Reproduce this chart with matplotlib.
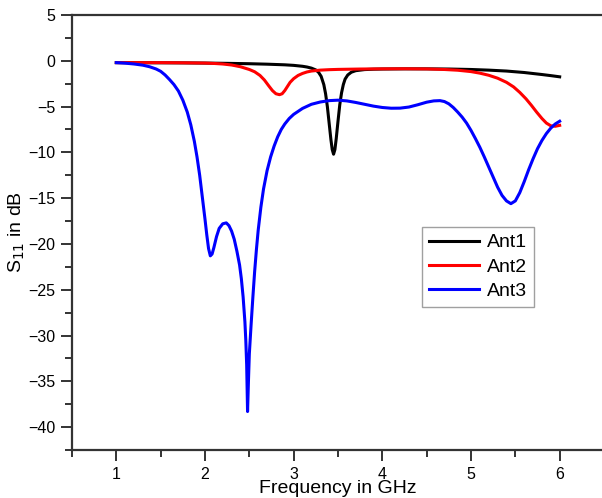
import matplotlib
matplotlib.use('Agg')
import matplotlib.pyplot as plt
from matplotlib.ticker import MultipleLocator

plt.rcParams['font.family'] = ['Liberation Sans', 'DejaVu Sans']

# Ant1 (black)
ant1_f = [1.0, 1.25, 1.5, 1.75, 2.0, 2.25, 2.5, 2.7, 2.9, 3.0, 3.1, 3.15, 3.2,
          3.25, 3.28, 3.31, 3.34, 3.36, 3.38, 3.4, 3.42, 3.435, 3.45, 3.465,
          3.48, 3.5, 3.52, 3.54, 3.56, 3.58, 3.61, 3.65, 3.7, 3.8, 3.9, 4.0,
          4.25, 4.5, 4.75, 5.0, 5.2, 5.4, 5.6, 5.8, 5.9, 6.0]
ant1_s = [-0.2, -0.21, -0.22, -0.23, -0.25, -0.28, -0.32, -0.37, -0.44, -0.5,
          -0.6, -0.68, -0.8, -1.0, -1.25, -1.7, -2.6, -3.6, -5.0, -6.8, -8.6,
          -9.7, -10.2, -9.7, -8.5, -6.6, -4.8, -3.5, -2.6, -2.0, -1.55, -1.25,
          -1.08, -0.96, -0.92, -0.9, -0.88, -0.88, -0.9, -0.95, -1.02, -1.12,
          -1.28, -1.5, -1.62, -1.75]

# Ant2 (red)
ant2_f = [1.0, 1.25, 1.5, 1.75, 2.0, 2.1, 2.2, 2.3, 2.4, 2.5, 2.56, 2.62, 2.67,
          2.72, 2.76, 2.8, 2.84, 2.87, 2.9, 2.93, 2.96, 3.0, 3.05, 3.1, 3.15,
          3.2, 3.3, 3.4, 3.5, 3.75, 4.0, 4.25, 4.5, 4.7, 4.85, 5.0, 5.1, 5.2,
          5.3, 5.4, 5.48, 5.55, 5.62, 5.68, 5.74, 5.8, 5.85, 5.9, 5.95, 6.0]
ant2_s = [-0.2, -0.2, -0.2, -0.22, -0.25, -0.29, -0.35, -0.46, -0.65, -0.95,
          -1.2, -1.6, -2.1, -2.75, -3.25, -3.6, -3.7, -3.6, -3.25, -2.8, -2.35,
          -1.95, -1.6, -1.38, -1.22, -1.12, -1.02, -0.97, -0.94, -0.9, -0.88,
          -0.87, -0.89, -0.95, -1.03, -1.18, -1.35, -1.58, -1.9, -2.35, -2.85,
          -3.45, -4.15, -4.85, -5.6, -6.3, -6.8, -7.1, -7.15, -7.05]

# Ant3 (blue)
ant3_f = [1.0, 1.1, 1.2, 1.3, 1.375, 1.45, 1.5, 1.55, 1.6, 1.65, 1.7, 1.75, 1.8,
          1.84, 1.88, 1.91, 1.94, 1.97, 2.0, 2.02, 2.04, 2.06, 2.08, 2.1, 2.13,
          2.16, 2.2, 2.24, 2.27, 2.3, 2.33, 2.36, 2.39, 2.41, 2.43, 2.45, 2.46,
          2.47, 2.48, 2.49, 2.5, 2.52, 2.54, 2.56, 2.58, 2.6, 2.63, 2.66, 2.7,
          2.74, 2.78, 2.82, 2.86, 2.9, 2.95, 3.0, 3.1, 3.2, 3.3, 3.4, 3.5, 3.6,
          3.7, 3.8, 3.9, 4.0, 4.1, 4.2, 4.3, 4.4, 4.5, 4.58, 4.65, 4.7, 4.75,
          4.8, 4.85, 4.9, 4.95, 5.0, 5.05, 5.1, 5.15, 5.2, 5.25, 5.3, 5.35, 5.4,
          5.45, 5.5, 5.55, 5.6, 5.65, 5.7, 5.75, 5.8, 5.85, 5.9, 5.95, 6.0]
ant3_s = [-0.2, -0.26, -0.35, -0.48, -0.65, -0.9, -1.15, -1.55, -2.05, -2.6,
          -3.3, -4.3, -5.6, -7.0, -8.8, -10.5, -12.5, -14.9, -17.3, -19.0, -20.5,
          -21.3, -21.1, -20.4, -19.2, -18.3, -17.8, -17.7, -18.0, -18.6, -19.5,
          -20.8, -22.3, -23.8, -25.8, -28.5, -30.5, -33.2, -38.3, -35.0, -32.0,
          -28.8, -25.8, -23.0, -20.6, -18.5, -16.0, -14.0, -12.0, -10.5, -9.3,
          -8.3, -7.5, -6.9, -6.3, -5.85, -5.2, -4.75, -4.5, -4.35, -4.3, -4.38,
          -4.55, -4.75, -4.95, -5.1, -5.18, -5.17, -5.05, -4.8, -4.52, -4.38,
          -4.35, -4.45, -4.7, -5.1, -5.6, -6.15, -6.8, -7.6, -8.5, -9.45, -10.5,
          -11.6, -12.7, -13.8, -14.7, -15.3, -15.6, -15.3, -14.4, -13.2, -11.9,
          -10.7, -9.6, -8.7, -7.95, -7.35, -6.9, -6.6]

fig = plt.figure(figsize=(6.02, 4.98), dpi=100)
ax = fig.add_axes([72/602, 1-450/498, 532/602, 435/498])

ax.plot(ant1_f, ant1_s, color='black', lw=2.2, label='Ant1')
ax.plot(ant2_f, ant2_s, color='red', lw=2.2, label='Ant2')
ax.plot(ant3_f, ant3_s, color='blue', lw=2.2, label='Ant3')

ax.set_xlim(0.5, 6.5)
ax.set_ylim(-42.5, 5)
ax.xaxis.set_major_locator(MultipleLocator(1))
ax.xaxis.set_minor_locator(MultipleLocator(0.5))
ax.yaxis.set_major_locator(MultipleLocator(5))
ax.yaxis.set_minor_locator(MultipleLocator(2.5))

for s in ax.spines.values():
    s.set_linewidth(1.6)
    s.set_color('#333333')
ax.tick_params(which='both', direction='out', top=False, right=False,
               width=1.4, color='#333333', labelsize=11.5)
ax.tick_params(which='major', length=8, pad=4)
ax.tick_params(which='minor', length=5)

ax.set_xlabel('Frequency in GHz', fontsize=14)
ax.xaxis.set_label_coords(0.5, -0.07)
ax.set_ylabel('S$_{11}$ in dB', fontsize=14)
ax.yaxis.set_label_coords(-0.085, 0.5)

leg = ax.legend(loc='upper left', bbox_to_anchor=((422-72)/532, (450-227)/435),
                fontsize=14, frameon=True, fancybox=False, handlelength=2.6,
                borderaxespad=0, labelspacing=0.35, borderpad=0.35,
                handletextpad=0.4)
leg.get_frame().set_edgecolor('#888888')
leg.get_frame().set_linewidth(1.0)

fig.savefig('out.png', dpi=100)
